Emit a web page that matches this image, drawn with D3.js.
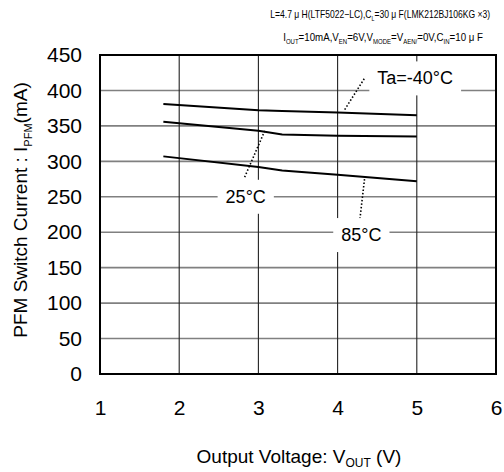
<!DOCTYPE html>
<html>
<head>
<meta charset="utf-8">
<script src="https://cdn.jsdelivr.net/npm/d3@7"></script>
<style>
  html, body { margin: 0; padding: 0; background: #fff; }
  svg { display: block; font-family: Arial, "Liberation Sans", sans-serif; }
</style>
</head>
<body>
<svg id="chart" width="504" height="472"></svg>
<script>
// ---- data ----
const voltage = [1.8, 3.0, 3.3, 4.0, 5.0];
const currentM40 = [381, 372, 371, 369, 365];
const current25 = [356, 343, 338, 336, 335];
const current85 = [307, 292, 287, 281, 272];
const xTicks = [1, 2, 3, 4, 5, 6];
const yTicks = [0, 50, 100, 150, 200, 250, 300, 350, 400, 450];
const labelTexts = ["Ta=-40°C", "25°C", "85°C"];
// label centers and leader lines in data units
const labelPos = [[4.98, 417], [2.84, 250], [4.30, 196]];
const leaders = [
  [[4.09, 373], [4.35, 419]],
  [[3.08, 343], [2.82, 276]],
  [[4.34, 275], [4.28, 217]]
];

const svg = d3.select("#chart");
const m = { left: 100, right: 496, top: 55, bottom: 374 };
const x = d3.scaleLinear().domain([1, 6]).range([m.left, m.right]);
const y = d3.scaleLinear().domain([0, 450]).range([m.bottom, m.top]);

// horizontal gridlines
svg.append("g").selectAll("line").data(yTicks.slice(1, -1)).join("line")
  .attr("x1", m.left).attr("x2", m.right)
  .attr("y1", d => y(d)).attr("y2", d => y(d))
  .attr("stroke", "#808080").attr("stroke-width", 1.6);
// vertical gridlines
svg.append("g").selectAll("line").data(xTicks.slice(1, -1)).join("line")
  .attr("x1", d => x(d)).attr("x2", d => x(d))
  .attr("y1", m.top).attr("y2", m.bottom)
  .attr("stroke", "#222").attr("stroke-width", 1.1);

// curves
const line = d3.line().x((d, i) => x(voltage[i])).y(d => y(d));
[currentM40, current25, current85].forEach(s => {
  svg.append("path").datum(s).attr("d", line)
    .attr("fill", "none").attr("stroke", "#000").attr("stroke-width", 2);
});

// leader lines
svg.append("g").selectAll("line").data(leaders).join("line")
  .attr("x1", d => x(d[0][0])).attr("y1", d => y(d[0][1]))
  .attr("x2", d => x(d[1][0])).attr("y2", d => y(d[1][1]))
  .attr("stroke", "#000").attr("stroke-width", 1.6)
  .attr("stroke-dasharray", "1.5,2");

// labels with white boxes
labelTexts.forEach((t, i) => {
  const g = svg.append("g");
  const rect = g.append("rect").attr("fill", "#fff");
  const txt = g.append("text")
    .attr("x", x(labelPos[i][0])).attr("y", y(labelPos[i][1]))
    .attr("text-anchor", "middle").attr("dominant-baseline", "central")
    .attr("font-size", 18).text(t);
  const bb = txt.node().getBBox();
  rect.attr("x", bb.x - 8).attr("y", bb.y - 7)
    .attr("width", bb.width + 16).attr("height", bb.height + 14);
});

// frame
svg.append("rect").attr("x", m.left).attr("y", m.top)
  .attr("width", m.right - m.left).attr("height", m.bottom - m.top)
  .attr("fill", "none").attr("stroke", "#000").attr("stroke-width", 2);

// axes
const yAxis = svg.append("g").attr("transform", `translate(${m.left},0)`)
  .call(d3.axisLeft(y).tickValues(yTicks).tickSize(0).tickPadding(18).tickFormat(d3.format("d")));
const xAxis = svg.append("g").attr("transform", `translate(0,${m.bottom})`)
  .call(d3.axisBottom(x).tickValues(xTicks).tickSize(0).tickPadding(26).tickFormat(d3.format("d")));
[yAxis, xAxis].forEach(a => {
  a.select(".domain").remove();
  a.selectAll("text").attr("font-size", 21).attr("fill", "#000")
    .attr("font-family", "Arial, 'Liberation Sans', sans-serif");
});

// axis titles
const xt = svg.append("text").attr("x", 299).attr("y", 463)
  .attr("text-anchor", "middle").attr("font-size", 19);
xt.append("tspan").text("Output Voltage: V");
xt.append("tspan").attr("font-size", 12).attr("dy", 4).text("OUT");
xt.append("tspan").attr("dy", -4).text(" (V)");

const yt = svg.append("text").attr("transform", "translate(27,210) rotate(-90)")
  .attr("text-anchor", "middle").attr("font-size", 19);
yt.append("tspan").text("PFM Switch Current : I");
yt.append("tspan").attr("font-size", 11).attr("dy", 5).text("PFM");
yt.append("tspan").attr("dy", -5).text("(mA)");

// condition notes
function fitWidth(sel, w) {
  const cur = sel.node().getBBox().width;
  if (cur > 0) sel.attr("transform", `translate(${+sel.attr("x")},0) scale(${w / cur},1) translate(${-sel.attr("x")},0)`);
}
const n1 = svg.append("text").attr("x", 490).attr("y", 18)
  .attr("text-anchor", "end").attr("font-size", 10.5);
n1.append("tspan").text("L=4.7 μ H(LTF5022−LC),C");
n1.append("tspan").attr("font-size", 6.5).attr("dy", 3).text("L");
n1.append("tspan").attr("dy", -3).text("=30 μ F(LMK212BJ106KG ×3)");
fitWidth(n1, 220);

const n2 = svg.append("text").attr("x", 483).attr("y", 41)
  .attr("text-anchor", "end").attr("font-size", 10.5);
n2.append("tspan").text("I");
n2.append("tspan").attr("font-size", 6.5).attr("dy", 3).text("OUT");
n2.append("tspan").attr("dy", -3).text("=10mA,V");
n2.append("tspan").attr("font-size", 6.5).attr("dy", 3).text("EN");
n2.append("tspan").attr("dy", -3).text("=6V,V");
n2.append("tspan").attr("font-size", 6.5).attr("dy", 3).text("MODE");
n2.append("tspan").attr("dy", -3).text("=V");
n2.append("tspan").attr("font-size", 6.5).attr("dy", 3).text("AEN/");
n2.append("tspan").attr("dy", -3).text("=0V,C");
n2.append("tspan").attr("font-size", 6.5).attr("dy", 3).text("IN");
n2.append("tspan").attr("dy", -3).text("=10 μ F");
fitWidth(n2, 200);
</script>
</body>
</html>
